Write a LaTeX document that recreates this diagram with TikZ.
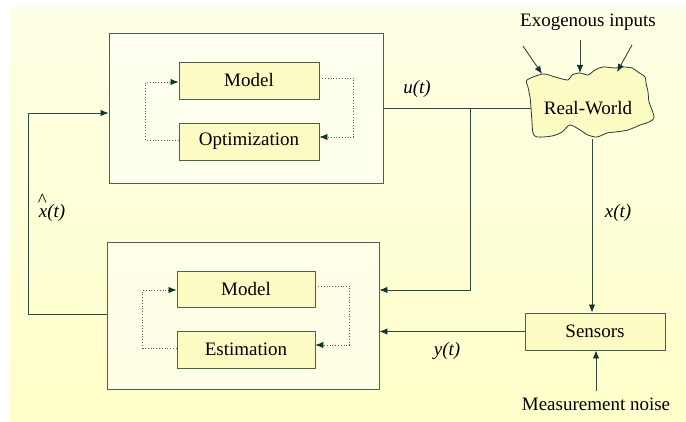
\documentclass[tikz,border=0pt]{standalone}
\usepackage{fontspec}
\setmainfont{Liberation Serif}
\newfontfamily\tnr{Liberation Serif}
\usetikzlibrary{arrows.meta}
\definecolor{ln}{RGB}{45,72,62}
\definecolor{tipc}{RGB}{20,55,45}
\definecolor{bx}{RGB}{70,98,86}
\definecolor{fillc}{RGB}{253,251,196}
\definecolor{dotc}{RGB}{90,90,90}
\definecolor{bgtop}{RGB}{255,255,230}
\definecolor{bgmid}{RGB}{255,255,250}
\definecolor{bgbot}{RGB}{255,255,202}
\tikzset{
  lbl/.style={font=\tnr\fontsize{19}{22}\selectfont, inner sep=1pt},
  ilbl/.style={font=\tnr\fontsize{19}{22}\selectfont\itshape, inner sep=1pt},
  outerbox/.style={draw=bx, line width=0.9pt, fill=white, fill opacity=0.5, minimum width=#1, inner sep=0pt},
  inbox/.style={draw=bx, line width=0.9pt, fill=fillc, font=\tnr\fontsize{19}{22}\selectfont, inner sep=0pt, minimum width=#1},
  conn/.style={draw=ln, line width=0.9pt},
  arr/.style={conn, -{Latex[length=8pt,width=6.5pt,color=tipc]}},
  dots/.style={draw=dotc, line width=0.8pt, dotted},
  darr/.style={dots, -{Latex[length=8pt,width=6.5pt,color=tipc]}}
}
\begin{document}
\begin{tikzpicture}[x=1pt,y=-1pt]
\useasboundingbox (0,0) rectangle (686,422);
\shade[top color=bgtop, middle color=bgmid, bottom color=bgbot] (10,8) rectangle (686,422);

% top controller block
\node[outerbox=274pt, minimum height=150pt] (top) at (246,108) {};
\node[inbox=140pt, minimum height=37pt] (m1) at (249,80.5) {Model};
\node[inbox=140pt, minimum height=37pt] (opt) at (249,141.5) {Optimization};
\draw[darr] ([yshift=2.5pt]m1.east) -- ++(34,0) |- ([yshift=4.5pt]opt.east);
\draw[darr] ([yshift=1.5pt]opt.west) -- ++(-33,0) |- ([yshift=-1.5pt]m1.west);

% lower estimator block
\node[outerbox=272pt, minimum height=147pt] (low) at (243,315.5) {};
\node[inbox=138pt, minimum height=36pt] (m2) at (246,289) {Model};
\node[inbox=138pt, minimum height=37pt] (est) at (246,349.5) {Estimation};
\draw[darr] ([yshift=3pt]m2.east) -- ++(34,0) |- ([yshift=4.5pt]est.east);
\draw[darr] ([yshift=1.5pt]est.west) -- ++(-34,0) |- ([yshift=-1pt]m2.west);

% real world cloud
\draw[draw=ln!80!black, line width=0.8pt, fill=fillc] plot[smooth cycle, tension=0.5] coordinates {
 (527,80) (543,74) (555,77) (568,80) (572,75) (580,73) (588,75) (595,70) (603,67)
 (615,68) (623,67) (632,68) (638,72) (645,77) (646,83) (648,92) (649,102) (652,110)
 (654,118) (649,122) (640,125) (628,130) (615,132) (607,133) (597,137) (588,135)
 (580,130) (570,125) (562,132) (552,136) (537,137) (533,133) (532,122) (531,108)
 (530,97) (528,87)};
\node[minimum width=118pt, minimum height=62pt, inner sep=0pt] (rw) at (590,106) {};
\node[lbl] (rwt) at (588,108) {Real-World};

% exogenous inputs
\node[lbl] (exo) at (588,22) {Exogenous inputs};
\coordinate (e1s) at (523,46);
\coordinate (e1e) at (542,74);
\coordinate (e2s) at (580,40);
\coordinate (e2e) at (580,73);
\coordinate (e3s) at (632,45);
\coordinate (e3e) at (617,72);
\draw[arr] (e1s) -- (e1e);
\draw[arr] (e2s) -- (e2e);
\draw[arr] (e3s) -- (e3e);

% sensors
\node[inbox=140pt, minimum height=37pt] (sens) at (595,331.5) {Sensors};
\node[lbl] (mn) at (596,404) {Measurement noise};
\draw[arr] ([yshift=5pt]mn.north) -- (mn.north |- sens.south);

% u(t)
\draw[conn] (top.east) -- (top.east -| rw.west);
\coordinate (br) at (470,108);
\draw[arr] (br) |- ([yshift=25.5pt]low.east);
\node[ilbl] (ut) at (417,89) {u(t)};

% x(t)
\draw[arr] ([xshift=2pt,yshift=-2pt]rw.south) -- ([xshift=2pt]rw.south |- sens.north);
\node[ilbl] (xt) at (618,213) {x(t)};

% y(t)
\draw[arr] (sens.west) -- (sens.west -| low.east);
\node[ilbl] (yt) at (447,351) {y(t)};

% x-hat feedback
\draw[arr] ([yshift=1.5pt]low.west) -- ++(-78,0) |- ([yshift=-5pt]top.west);
\node[ilbl] (xh) at (52,208) {x\llap{\raisebox{0.55em}{\upshape\^{}}\hspace{0.5pt}}(t)};
\end{tikzpicture}
\end{document}
